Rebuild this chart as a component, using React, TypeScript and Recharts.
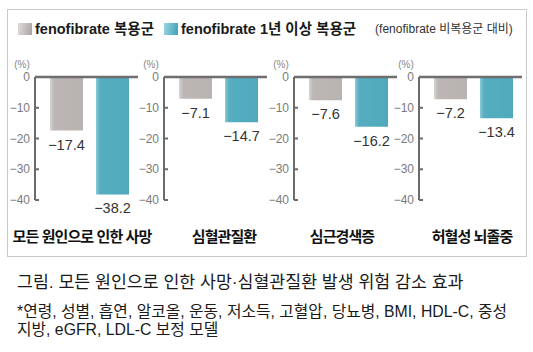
import React from "react";
import { BarChart, Bar, XAxis, YAxis, ReferenceLine, LabelList } from "recharts";

// ─── Data ────────────────────────────────────────────────────────────────────

const CATEGORIES = ["모든 원인으로 인한 사망", "심혈관질환", "심근경색증", "허혈성 뇌졸중"];
const FENO = [-17.4, -7.1, -7.6, -7.2];
const FENO_1Y = [-38.2, -14.7, -16.2, -13.4];
const Y_TICKS = [0, -10, -20, -30, -40];
const SERIES_NAMES = ["fenofibrate 복용군", "fenofibrate 1년 이상 복용군"];
const LEGEND_NOTE = "(fenofibrate 비복용군 대비)";
const CAPTION = "그림. 모든 원인으로 인한 사망·심혈관질환 발생 위험 감소 효과";
const FOOTNOTE = [
  "*연령, 성별, 흡연, 알코올, 운동, 저소득, 고혈압, 당뇨병, BMI, HDL-C, 중성",
  "지방, eGFR, LDL-C 보정 모델",
];

// ─── Layout / style ──────────────────────────────────────────────────────────

const FONT = '"Liberation Sans", "Noto Sans CJK KR", sans-serif';
const AXIS_X = [35, 164, 294, 419]; // x of each panel's y axis
const LABEL_CX = [82, 224, 342, 472];
const AXIS_W = 26;
const GRAY = "#b8b3b1";
const TEAL = "#4fa8bb";

const fmt = (v: number) => (v < 0 ? `\u2212${Math.abs(v)}` : `${v}`);

const AxisTick = (props: any) => {
  const { x, y, payload } = props;
  return (
    <g>
      <text x={x} y={y} dy={4} textAnchor="end" fontSize={12} fill="#7a7a7a" fontFamily={FONT}>
        {fmt(payload.value)}
      </text>
      {payload.value !== 0 && (
        <line x1={x + 5} x2={x + 9} y1={y} y2={y} stroke="#6b6b6b" strokeWidth={2} />
      )}
    </g>
  );
};

const ValueLabel = (props: any) => {
  const { x, y, width, height, value } = props;
  const bottom = Math.max(Number(y), Number(y) + Number(height));
  return (
    <text
      x={Number(x) + Number(width) / 2}
      y={bottom + 14}
      dominantBaseline="central"
      textAnchor="middle"
      fontSize={14.5}
      fill="#333"
      fontFamily={FONT}
    >
      {fmt(Number(value))}
    </text>
  );
};

function Panel({ i }: { i: number }) {
  const data = [{ category: CATEGORIES[i], feno: FENO[i], feno1y: FENO_1Y[i] }];
  return (
    <div style={{ position: "absolute", left: AXIS_X[i] - AXIS_W, top: 55 }}>
      <BarChart
        width={AXIS_W + 103}
        height={170}
        data={data}
        margin={{ top: 22, right: 0, bottom: 25, left: 0 }}
        barSize={33}
        barGap={13}
      >
        <defs>
          <linearGradient id={`gray-${i}`} x1="0" y1="0" x2="1" y2="0">
            <stop offset="0%" stopColor="#d8d5d4" />
            <stop offset="12%" stopColor="#bcb7b5" />
            <stop offset="100%" stopColor={GRAY} />
          </linearGradient>
          <linearGradient id={`teal-${i}`} x1="0" y1="0" x2="1" y2="0">
            <stop offset="0%" stopColor="#8ccad6" />
            <stop offset="12%" stopColor="#56adc0" />
            <stop offset="100%" stopColor={TEAL} />
          </linearGradient>
        </defs>
        <XAxis dataKey="category" hide padding={{ left: 6, right: 0 }} />
        <YAxis
          domain={[-40, 0]}
          ticks={Y_TICKS}
          interval={0}
          width={AXIS_W}
          tickSize={0}
          tickMargin={5}
          tickLine={false}
          tick={<AxisTick />}
          axisLine={{ stroke: "#6b6b6b", strokeWidth: 2 }}
          label={{ value: "(%)", position: "top", offset: 9, fontSize: 10, fill: "#888", fontFamily: FONT }}
        />
        <Bar dataKey="feno" name={SERIES_NAMES[0]} fill={`url(#gray-${i})`} isAnimationActive={false}>
          <LabelList dataKey="feno" content={ValueLabel} />
        </Bar>
        <Bar dataKey="feno1y" name={SERIES_NAMES[1]} fill={`url(#teal-${i})`} isAnimationActive={false}>
          <LabelList dataKey="feno1y" content={ValueLabel} />
        </Bar>
        <ReferenceLine y={0} stroke="#6e6e6e" strokeWidth={2.5} />
      </BarChart>
    </div>
  );
}

export default function App() {
  const swatch = (bg: string) => (
    <span style={{ display: "inline-block", width: 14, height: 12, background: bg, marginRight: 3 }} />
  );
  return (
    <div
      style={{
        position: "absolute",
        left: 0,
        top: 0,
        width: 533,
        height: 352,
        background: "#fff",
        fontFamily: FONT,
        color: "#1a1a1a",
      }}
    >
      <div
        style={{
          position: "absolute",
          left: 7,
          top: 9,
          width: 520,
          height: 248,
          border: "1px solid #c9c9c9",
          boxSizing: "border-box",
        }}
      />

      {/* Legend */}
      <div style={{ position: "absolute", left: 18, top: 22, height: 14, display: "flex", alignItems: "center" }}>
        {swatch("linear-gradient(100deg, #dedbda, #aaa5a3)")}
        <span style={{ fontSize: 14.5, fontWeight: 700, lineHeight: "14px" }}>{SERIES_NAMES[0]}</span>
        <span style={{ width: 10 }} />
        {swatch("linear-gradient(100deg, #9dd6e0, #3e9fb7)")}
        <span style={{ fontSize: 14.5, fontWeight: 700, lineHeight: "14px" }}>{SERIES_NAMES[1]}</span>
        <span style={{ width: 19 }} />
        <span style={{ fontSize: 12, color: "#333", lineHeight: "14px" }}>{LEGEND_NOTE}</span>
      </div>

      {CATEGORIES.map((_, i) => (
        <Panel key={i} i={i} />
      ))}

      {CATEGORIES.map((c, i) => (
        <div
          key={c}
          style={{
            position: "absolute",
            left: LABEL_CX[i] - 80,
            width: 160,
            top: 228,
            lineHeight: "18px",
            textAlign: "center",
            fontSize: 15,
            fontWeight: 700,
            letterSpacing: -0.9,
            color: "#111",
          }}
        >
          {c}
        </div>
      ))}

      <div style={{ position: "absolute", left: 17, top: 273, fontSize: 17.3, lineHeight: "18px", whiteSpace: "nowrap" }}>
        {CAPTION}
      </div>
      <div style={{ position: "absolute", left: 17, top: 303, fontSize: 15.8, lineHeight: "18px", whiteSpace: "nowrap" }}>
        {FOOTNOTE.map((l) => (
          <div key={l}>{l}</div>
        ))}
      </div>
    </div>
  );
}
